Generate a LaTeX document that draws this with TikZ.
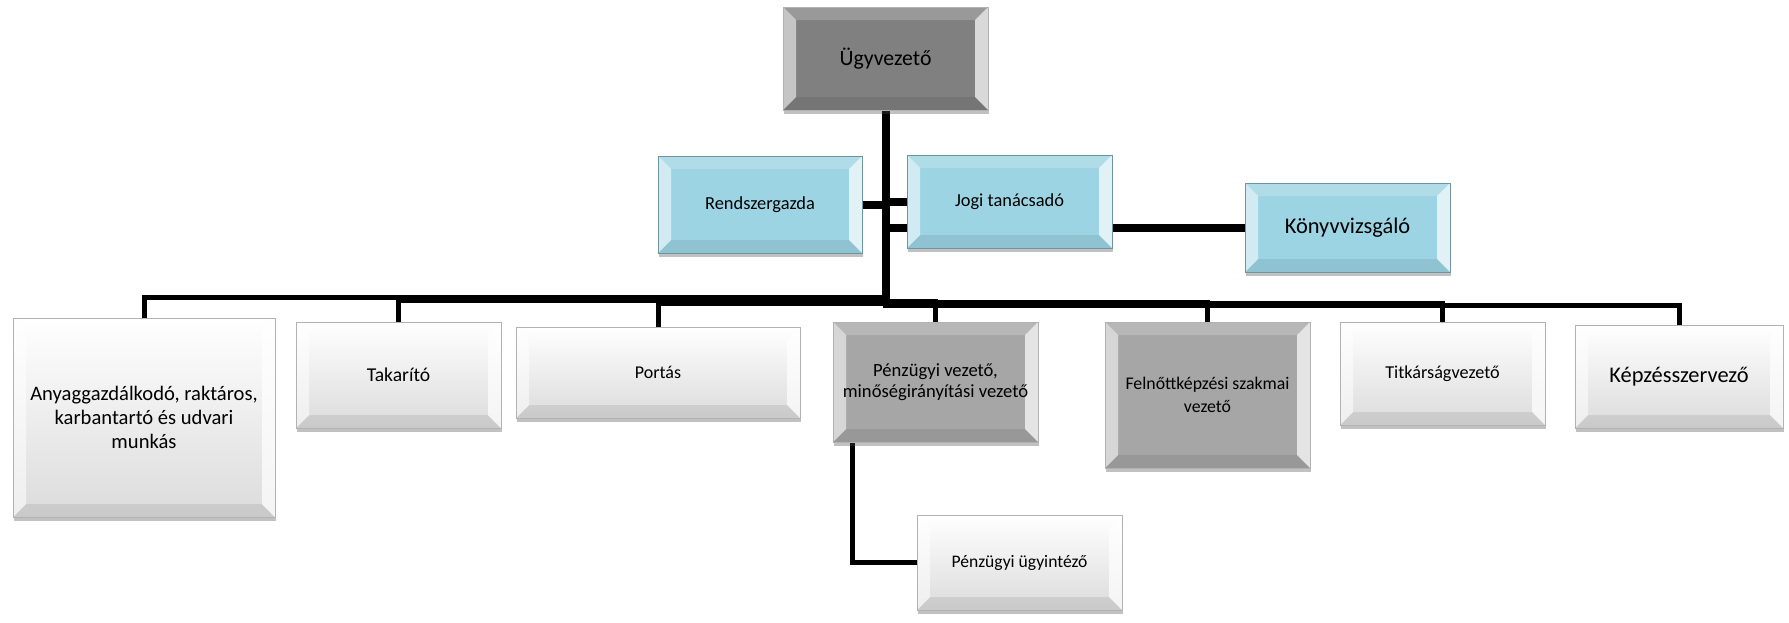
\documentclass[tikz,border=0pt]{standalone}
\usepackage{fontspec}
\setmainfont{Carlito}
\usetikzlibrary{shadows,backgrounds}

\definecolor{boxblue}{RGB}{157,212,227}
\definecolor{boxgray}{RGB}{166,166,166}
\definecolor{boxdark}{RGB}{128,128,128}

\tikzset{
  bevel/.style={rectangle, inner sep=0pt, align=center, draw=black!30, line width=0.4pt,
    drop shadow={shadow xshift=0.6pt, shadow yshift=-2.2pt, opacity=0.35, fill=black!70},
    path picture={
      \coordinate (nw) at (path picture bounding box.north west);
      \coordinate (ne) at (path picture bounding box.north east);
      \coordinate (sw) at (path picture bounding box.south west);
      \coordinate (se) at (path picture bounding box.south east);
      \fill[white, opacity=0.2] (nw) -- (ne) -- ([shift={(-6.5pt,-6.5pt)}]ne) -- ([shift={(6.5pt,-6.5pt)}]nw) -- cycle;
      \fill[black, opacity=0.08] (sw) -- (se) -- ([shift={(-6.5pt,6.5pt)}]se) -- ([shift={(6.5pt,6.5pt)}]sw) -- cycle;
      \fill[white, opacity=0.55] (nw) -- ([shift={(6.5pt,-6.5pt)}]nw) -- ([shift={(6.5pt,6.5pt)}]sw) -- (sw) -- cycle;
      \fill[white, opacity=0.7] (ne) -- ([shift={(-6.5pt,-6.5pt)}]ne) -- ([shift={(-6.5pt,6.5pt)}]se) -- (se) -- cycle;
    }},
  darkbox/.style={bevel, fill=boxdark},
  graybox/.style={bevel, fill=boxgray},
  bluebox/.style={bevel, fill=boxblue, draw=boxblue!70!black},
  lightbox/.style={bevel, top color=white, bottom color=black!14},
  sz/.style 2 args={font=\fontsize{#1}{#2}\selectfont},
  conn/.style={draw=black, line width=2.5pt, line join=miter},
  thick conn/.style={conn, line width=4pt},
}

\begin{document}
\begin{tikzpicture}[x=0.5pt,y=-0.5pt]
\useasboundingbox (0,0) rectangle (1789,622);

% top and staff
\node[darkbox, sz={10.9}{13}, minimum width=102.5pt, minimum height=51.5pt] (ugy) at (885.5,58.5) {Ügyvezető};
\node[bluebox, sz={9.2}{11}, minimum width=102pt, minimum height=48.5pt] (rend) at (760,204.5) {Rendszergazda};
\node[bluebox, sz={9.2}{11}, minimum width=102.5pt, minimum height=46.5pt] (jogi) at (1009.5,201.5) {Jogi tanácsadó};
\node[bluebox, sz={11.2}{13}, minimum width=102.5pt, minimum height=44.5pt] (konyv) at (1347.5,227.5) {Könyvvizsgáló};

% lower row
\node[lightbox, sz={10.3}{12.2}, minimum width=131pt, minimum height=99.5pt] (anyag) at (144,417.5) {Anyaggazdálkodó, raktáros,\\karbantartó és udvari\\munkás};
\node[lightbox, sz={9.8}{11}, minimum width=102.5pt, minimum height=53pt] (tak) at (398.5,375) {Takarító};
\node[lightbox, sz={9}{11}, minimum width=142pt, minimum height=45.5pt] (port) at (658,372.5) {Portás};
\node[graybox, sz={9.3}{10.5}, minimum width=102.5pt, minimum height=60pt] (penz) at (935.5,382) {Pénzügyi vezető,\\minőségirányítási vezető};
\node[graybox, sz={8.9}{11.2}, minimum width=102.5pt, minimum height=73pt] (felnott) at (1207.5,395) {Felnőttképzési szakmai\\vezető};
\node[lightbox, sz={9.1}{11}, minimum width=102.5pt, minimum height=51.5pt] (titk) at (1442.5,373.5) {Titkárságvezető};
\node[lightbox, sz={11.2}{13}, minimum width=104pt, minimum height=51.5pt] (kepz) at (1679,376.5) {Képzésszervező};
\node[lightbox, sz={8.8}{11}, minimum width=102.5pt, minimum height=47.5pt] (ugyint) at (1019.5,562.5) {Pénzügyi ügyintéző};

\begin{pgfonlayer}{background}
\draw[thick conn] (ugy.south) -- ++(0,196);
\draw[thick conn] (ugy.south) |- (rend.east);
\draw[thick conn] (ugy.south) |- (jogi.west);
\draw[thick conn] (ugy.south) |- (konyv.west);
\draw[conn] (ugy.south) -- ++(0,187) -| (anyag.north);
\draw[conn] (ugy.south) -- ++(0,190) -| (tak.north);
\draw[conn] (ugy.south) -- ++(0,193) -| (port.north);
\draw[conn] (ugy.south) -- ++(0,191) -| (penz.north);
\draw[conn] (ugy.south) -- ++(0,192) -| (felnott.north);
\draw[conn] (ugy.south) -- ++(0,193) -| (titk.north);
\draw[conn] (ugy.south) -- ++(0,195) -| (kepz.north);
\draw[conn] ([xshift=10pt]penz.south west) |- (ugyint.west);
\end{pgfonlayer}
\end{tikzpicture}
\end{document}
